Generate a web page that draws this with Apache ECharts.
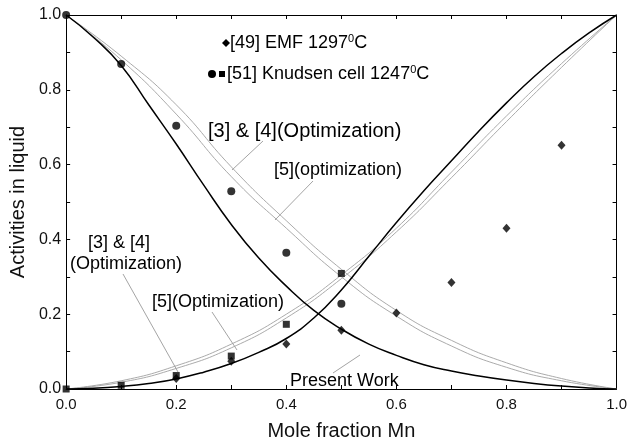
<!DOCTYPE html>
<html><head><meta charset="utf-8">
<script src="https://cdn.jsdelivr.net/npm/echarts@6/dist/echarts.min.js"></script>
<style>html,body{margin:0;padding:0;background:#fff}#c{width:630px;height:446px}</style>
</head><body><div id="c"></div>
<script>
// ---- data ----
const xFine = [0,0.05,0.1,0.15,0.2,0.25,0.3,0.35,0.4,0.45,0.5,0.55,0.6,0.65,0.7,0.75,0.8,0.85,0.9,0.95,1];
const presentFe = [1,0.94,0.865,0.76,0.655,0.545,0.44,0.35,0.275,0.21,0.16,0.12,0.09,0.065,0.048,0.035,0.024,0.015,0.008,0.003,0];
const presentMn = [0,0.002,0.007,0.015,0.027,0.045,0.068,0.098,0.135,0.19,0.265,0.355,0.445,0.53,0.61,0.69,0.765,0.835,0.897,0.952,1];
const xCoarse = [0,0.1,0.2,0.3,0.4,0.5,0.6,0.7,0.8,0.9,1];
const opt34Fe = [1,0.89,0.76,0.594,0.45,0.32,0.21,0.13,0.07,0.028,0];
const opt5Fe  = [1,0.88,0.735,0.568,0.43,0.30,0.195,0.115,0.058,0.022,0];
const opt34Mn = [0,0.022,0.062,0.12,0.2,0.305,0.43,0.58,0.73,0.87,1];
const opt5Mn  = [0,0.018,0.055,0.11,0.19,0.295,0.42,0.565,0.715,0.86,1];
const emfX = [0.2,0.3,0.4,0.5,0.6,0.7,0.8,0.9];
const emfA = [0.028,0.074,0.12,0.157,0.203,0.285,0.43,0.652];
const knFeX = [0,0.1,0.2,0.3,0.4,0.5];
const knFeA = [1,0.869,0.704,0.529,0.364,0.228];
const knMnX = [0,0.1,0.2,0.3,0.4,0.5];
const knMnA = [0,0.01,0.036,0.088,0.173,0.309];

const zip = (xs, ys) => xs.map((x,i)=>[x, ys[i]]);
const chart = echarts.init(document.getElementById('c'), null, {renderer:'canvas'});
const FONT = 'Liberation Sans, Arial, sans-serif';
const gray = '#a0a0a0';
const lineSeries = (data, color, w) => ({type:'line', data, showSymbol:false, smooth:true,
  lineStyle:{color, width:w}, silent:true, z:2});
const axisCommon = {
  min:0, max:1, interval:0.2,
  axisLine:{show:true, onZero:false, lineStyle:{color:'#000', width:1}},
  axisTick:{show:true, inside:true, length:4, lineStyle:{color:'#000'}},
  minorTick:{show:true, splitNumber:2, length:4, lineStyle:{color:'#000'}},
  splitLine:{show:false}
};
const fmt = v => v.toFixed(1);
const txt = (text, x, y, size) => ({type:'text', x, y, style:{text, fontFamily:FONT, fontSize:size||18, fill:'#000', verticalAlign:'middle'}});
const lead = (x1,y1,x2,y2) => ({type:'line', shape:{x1,y1,x2,y2}, style:{stroke:'#666', lineWidth:0.6}});
const rich = {n:{fontFamily:FONT,fontSize:18,fill:'#000'}, s:{fontFamily:FONT,fontSize:11,fill:'#000',verticalAlign:'top',padding:[0,0,9,0]}};
chart.setOption({
  animation:false,
  grid:{left:65, right:12, top:15, bottom:49},
  xAxis:[
    Object.assign({}, axisCommon, {type:'value', position:'bottom', name:'Mole fraction Mn', nameLocation:'middle', nameGap:32,
      nameTextStyle:{fontFamily:FONT, fontSize:20, color:'#111'},
      axisLabel:{formatter:fmt, fontFamily:FONT, fontSize:15, color:'#111', margin:8}}),
    Object.assign({}, axisCommon, {type:'value', position:'top', axisLabel:{show:false}})
  ],
  yAxis:[
    Object.assign({}, axisCommon, {type:'value', position:'left', name:'Activities in liquid', nameLocation:'middle', nameGap:30,
      nameTextStyle:{fontFamily:FONT, fontSize:20, color:'#111'},
      axisLabel:{formatter:fmt, fontFamily:FONT, fontSize:16, color:'#111', margin:5}}),
    Object.assign({}, axisCommon, {type:'value', position:'right', axisLabel:{show:false}})
  ],
  series:[
    lineSeries(zip(xCoarse,opt34Fe), gray, 0.9),
    lineSeries(zip(xCoarse,opt5Fe), gray, 0.9),
    lineSeries(zip(xCoarse,opt34Mn), gray, 0.9),
    lineSeries(zip(xCoarse,opt5Mn), gray, 0.9),
    lineSeries(zip(xFine,presentFe), '#000', 1.5),
    lineSeries(zip(xFine,presentMn), '#000', 1.5),
    {type:'scatter', data:zip(emfX,emfA), symbol:'diamond', symbolSize:[8,9], itemStyle:{color:'#000'}, z:5},
    {type:'scatter', data:zip(knMnX,knMnA), symbol:'rect', symbolSize:7, itemStyle:{color:'#000'}, z:6},
    {type:'scatter', data:zip(knFeX,knFeA), symbol:'circle', symbolSize:8, itemStyle:{color:'#000'}, z:6}
  ],
  graphic:[
    // legend
    {type:'polygon', shape:{points:[[226,39],[230,43],[226,47],[222,43]]}, style:{fill:'#000'}},
    {type:'text', x:230, y:43, style:{rich, verticalAlign:'middle', text:'{n|[49] EMF 1297}{s|0}{n|C}'}},
    {type:'circle', shape:{cx:212, cy:74, r:4}, style:{fill:'#000'}},
    {type:'rect', shape:{x:219, y:71, width:6, height:6}, style:{fill:'#000'}},
    {type:'text', x:227, y:74, style:{rich, verticalAlign:'middle', text:'{n|[51] Knudsen cell 1247}{s|0}{n|C}'}},
    // annotations
    txt('[3] & [4](Optimization)', 208, 131, 20),
    lead(263, 141, 232, 170),
    txt('[5](optimization)', 274, 170),
    lead(313, 181, 275, 220),
    txt('[3] & [4]', 88, 243),
    txt('(Optimization)', 70, 264),
    lead(123, 274, 178, 372),
    txt('[5](Optimization)', 152, 302),
    lead(212, 312, 237, 350),
    txt('Present Work', 290, 381),
    lead(333, 373, 360, 355)
  ]
});
</script></body></html>
